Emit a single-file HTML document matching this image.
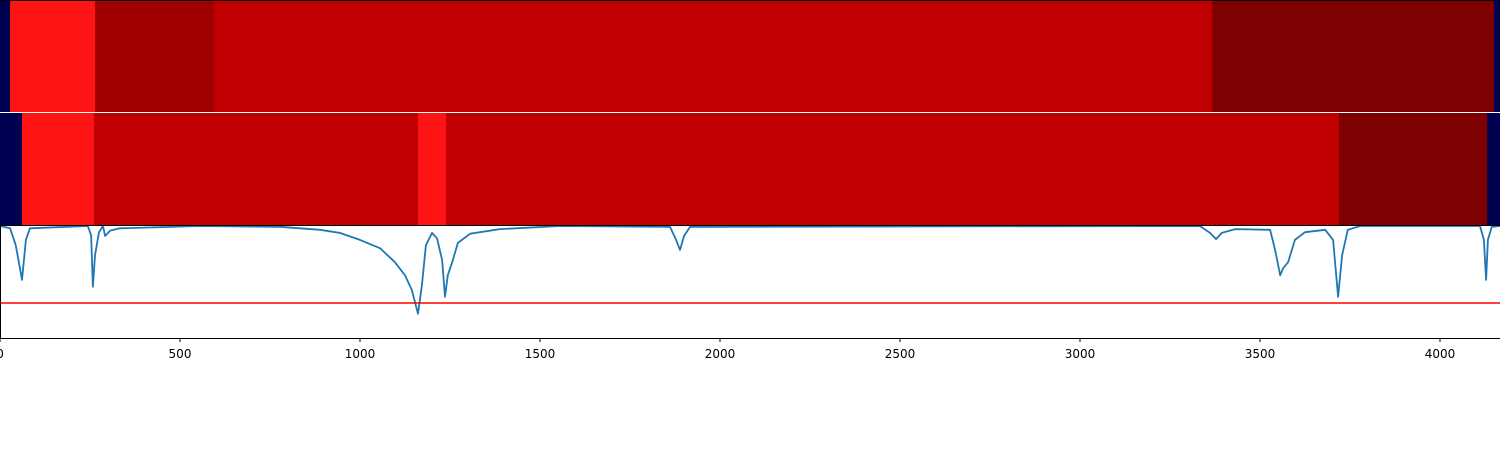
<!DOCTYPE html>
<html><head><meta charset="utf-8"><style>
html,body{margin:0;padding:0;background:#fff;}
svg{display:block;font-family:"DejaVu Sans","Liberation Sans",sans-serif;}
</style></head><body>
<svg id="chart" width="1500" height="450"></svg>
<script>
const xTicks=[0,500,1000,1500,2000,2500,3000,3500,4000];
const topBounds=[0,28,264,594,3367,4150,4167];
const topLevels=["navy","bright","dark","mid","maroon","navy"];
const midBounds=[0,61,261,1161,1239,3719,4131,4167];
const midLevels=["navy","bright","mid","bright","mid","maroon","navy"];
const lineX=[0,28,44,61,72,83,244,253,258,264,275,286,292,306,333,556,778,889,944,1000,1056,1097,1125,1144,1161,1172,1183,1200,1214,1228,1236,1244,1256,1272,1306,1389,1556,1861,1878,1889,1900,1917,3333,3361,3378,3394,3431,3528,3542,3556,3564,3578,3597,3625,3681,3703,3717,3728,3744,3778,4111,4122,4128,4133,4144,4167];
const lineY=[0,0.03,0.25,0.70,0.18,0.03,0,0.12,0.79,0.38,0.08,0,0.13,0.06,0.03,0,0.01,0.05,0.09,0.18,0.29,0.47,0.64,0.83,1.14,0.77,0.25,0.09,0.16,0.44,0.92,0.64,0.47,0.22,0.10,0.04,0,0.01,0.18,0.31,0.13,0.01,0,0.09,0.17,0.09,0.04,0.05,0.31,0.64,0.55,0.47,0.18,0.08,0.05,0.18,0.92,0.38,0.05,0,0,0.18,0.70,0.18,0.01,0];
const threshold=[1];
const colors={navy:"#000050",bright:"#ff1414",dark:"#a00000",mid:"#c00000",maroon:"#7f0000"};
const NS="http://www.w3.org/2000/svg";
const svg=document.getElementById('chart');
const X=v=>v*0.36;
const Y=v=>226+v*77;
function el(t,a){const e=document.createElementNS(NS,t);for(const k in a)e.setAttribute(k,a[k]);svg.appendChild(e);return e;}
function band(bounds,levels,y0,h,name){
  for(let i=0;i<levels.length;i++){
    const r=el('rect',{x:X(bounds[i]),y:y0,width:X(bounds[i+1])-X(bounds[i])+0.5,height:h,fill:colors[levels[i]]});
    
    
  }
}
band(topBounds,topLevels,0,112,'top-heatmap');
band(midBounds,midLevels,113,112,'middle-heatmap');
el('line',{x1:0,y1:112.5,x2:1500,y2:112.5,stroke:'#fff','stroke-width':1});
el('line',{x1:0,y1:0.5,x2:1500,y2:0.5,stroke:'#000','stroke-width':1});
const clip=el('clipPath',{id:'c'});
const cr=document.createElementNS(NS,'rect');cr.setAttribute('x',0);cr.setAttribute('y',225);cr.setAttribute('width',1500);cr.setAttribute('height',113);clip.appendChild(cr);
let d='';lineX.forEach((x,i)=>{d+=(i?'L':'M')+X(x).toFixed(1)+','+Y(lineY[i]).toFixed(1);});
const p=el('path',{d:d,fill:'none',stroke:'#1f77b4','stroke-width':1.8,'stroke-linejoin':'round','stroke-linecap':'round','clip-path':'url(#c)'});


const th=el('line',{x1:0,x2:1500,y1:Y(threshold[0]),y2:Y(threshold[0]),stroke:'#ff0000','stroke-width':1.6});


el('line',{x1:0,y1:225.5,x2:1500,y2:225.5,stroke:'#000','stroke-width':1});
el('line',{x1:0.5,y1:225,x2:0.5,y2:338,stroke:'#000','stroke-width':1});
const ax=el('line',{x1:0,y1:338.5,x2:1500,y2:338.5,stroke:'#000','stroke-width':1});


xTicks.forEach(t=>{
  el('line',{x1:X(t),x2:X(t),y1:338,y2:342,stroke:'#000','stroke-width':1});
  const tx=el('text',{x:X(t),y:358,'font-size':12,'text-anchor':'middle',fill:'#000'});
  tx.textContent=t;
  
  
});
</script>
</body></html>
